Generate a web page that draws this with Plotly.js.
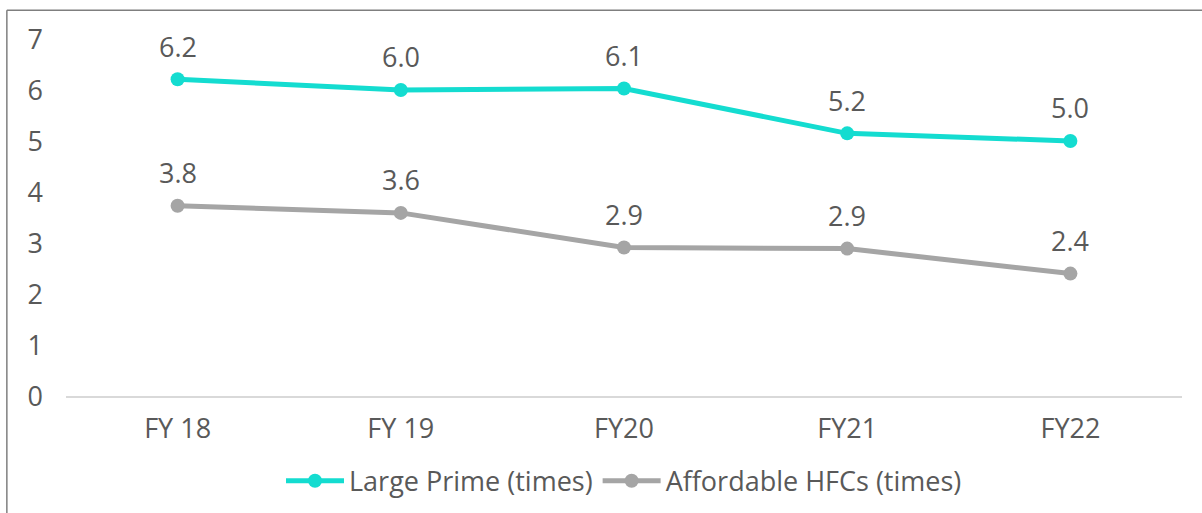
<!DOCTYPE html>
<html>
<head>
<meta charset="utf-8">
<script src="https://cdn.plot.ly/plotly-3.0.1.min.js"></script>
<style>html,body{margin:0;padding:0;background:#fff;}#chart{width:1202px;height:513px;}</style>
</head>
<body>
<div id="chart"></div>
<script>
const categories = ["FY 18", "FY 19", "FY20", "FY21", "FY22"];
const largePrime = [6.23, 6.02, 6.05, 5.17, 5.02];
const largePrimeLabels = ["6.2", "6.0", "6.1", "5.2", "5.0"];
const affordable = [3.75, 3.61, 2.93, 2.91, 2.42];
const affordableLabels = ["3.8", "3.6", "2.9", "2.9", "2.4"];
const yTicks = [0, 1, 2, 3, 4, 5, 6, 7];

const fontFam = "Open Sans, sans-serif";
const txtColor = "#595959";
const fs = 27;

const traces = [
  {
    x: categories, y: largePrime,
    name: "Large Prime (times)", type: "scatter", mode: "lines+markers",
    line: {color: "#14DCD0", width: 5},
    marker: {color: "#14DCD0", size: 14},
    cliponaxis: false, hoverinfo: "skip"
  },
  {
    x: categories, y: affordable,
    name: "Affordable HFCs (times)", type: "scatter", mode: "lines+markers",
    line: {color: "#A5A5A5", width: 5},
    marker: {color: "#A5A5A5", size: 14},
    cliponaxis: false, hoverinfo: "skip"
  }
];

const annotations = [];
[[largePrime, largePrimeLabels], [affordable, affordableLabels]].forEach(([vals, labs]) => {
  categories.forEach((c, i) => {
    annotations.push({
      x: c, y: vals[i], xref: "x", yref: "y", text: labs[i],
      showarrow: false, yshift: 33, yanchor: "middle", xanchor: "center",
      font: {family: fontFam, size: fs, color: txtColor}
    });
  });
});

const layout = {
  width: 1202, height: 513,
  margin: {l: 66, r: 20, t: 40, b: 116},
  paper_bgcolor: "#fff", plot_bgcolor: "#fff",
  font: {family: fontFam, size: fs, color: txtColor},
  showlegend: true,
  legend: {
    orientation: "h", xref: "paper", x: 0.5, xanchor: "center",
    yref: "container", y: 0.062, yanchor: "middle",
    font: {family: fontFam, size: fs, color: txtColor},
    itemwidth: 58, traceorder: "normal"
  },
  xaxis: {
    type: "category", range: [-0.5, 4.5], automargin: false,
    showgrid: false, zeroline: false, showline: false,
    ticks: "", tickfont: {family: fontFam, size: fs, color: txtColor},
    ticklabelstandoff: 13
  },
  yaxis: {
    range: [0, 7], tickvals: yTicks, showgrid: false, automargin: false,
    zeroline: true, zerolinecolor: "#D9D9D9", zerolinewidth: 2,
    showline: false, ticks: "",
    tickfont: {family: fontFam, size: fs, color: txtColor},
    ticklabelstandoff: 22
  },
  annotations: annotations,
  shapes: [
    {type: "line", xref: "paper", yref: "paper", x0: -0.053, x1: 1.02, y0: 1.083, y1: 1.083,
     line: {color: "#7F7F7F", width: 1.5}},
    {type: "line", xref: "paper", yref: "paper", x0: -0.053, x1: -0.053, y0: 1.083, y1: -0.4,
     line: {color: "#7F7F7F", width: 1.5}}
  ]
};

Plotly.newPlot("chart", traces, layout, {displayModeBar: false, staticPlot: true});
</script>
</body>
</html>
